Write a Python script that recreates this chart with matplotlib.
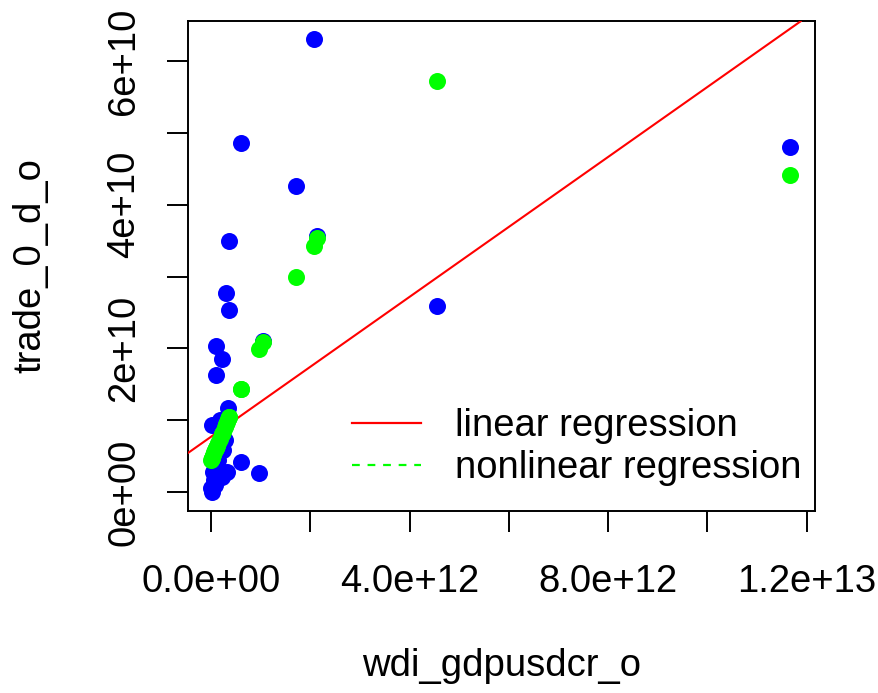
import numpy as np
import matplotlib
matplotlib.use("Agg")
import matplotlib.pyplot as plt
from matplotlib.lines import Line2D

plt.rcParams["font.family"] = ["Liberation Sans", "DejaVu Sans"]

# ==========================================
# Data
# gdp in 1e12, trade and fitted values in 1e10
# ==========================================

gdp = np.array([2.07, 2.13, 0.60, 1.71, 4.56, 11.66, 1.05, 0.97,
                0.36, 0.30, 0.36, 0.10, 0.22, 0.10, 0.34, 0.02,
                0.18, 0.24, 0.60, 0.04, 0.22, 0.08, 0.02, 0.32,
                0.06, 0.12, 0.28, 0.00, 0.14]) * 1e12

trade = np.array([6.31, 3.57, 4.86, 4.26, 2.59, 4.80, 2.10, 0.26,
                  3.50, 2.77, 2.53, 2.03, 1.85, 1.63, 1.17, 0.93,
                  1.00, 0.58, 0.42, 0.28, 0.21, 0.10, 0.00, 0.28,
                  0.17, 0.38, 0.72, 0.05, 0.45]) * 1e10

fitted_nl = np.array([3.43, 3.54, 1.43, 2.99, 5.72, 4.42, 2.09, 1.99,
                      1.04, 0.94, 1.04, 0.61, 0.81, 0.61, 1.01, 0.48,
                      0.74, 0.84, 1.43, 0.51, 0.81, 0.58, 0.48, 0.97,
                      0.55, 0.64, 0.91, 0.45, 0.68]) * 1e10

# linear regression line (intercept, slope)
lin_intercept = 0.769e10
lin_slope = 0.004872

x_ticks = np.arange(0, 13, 2) * 1e12
x_labels = ["0.0e+00", "", "4.0e+12", "", "8.0e+12", "", "1.2e+13"]
y_ticks = np.arange(0, 7, 1) * 1e10
y_labels = ["0e+00", "", "2e+10", "", "4e+10", "", "6e+10"]

# ==========================================
# Plot
# ==========================================

fs = 27.5
fig = plt.figure(figsize=(8.79, 6.93), dpi=100)
ax = fig.add_axes([0.2139, 0.2622, 0.7129, 0.7071])

ax.scatter(gdp, trade, s=150, color="blue", linewidths=0, zorder=2)
ax.axline((0, lin_intercept), slope=lin_slope, color="red", lw=1.5, zorder=3)
ax.scatter(gdp, fitted_nl, s=150, color="#00FF00", linewidths=0, zorder=4)

ax.set_xlim(-0.463e12, 12.16e12)
ax.set_ylim(-0.269e10, 6.556e10)

ax.set_xticks(x_ticks)
ax.set_xticklabels(x_labels, fontsize=fs)
ax.set_yticks(y_ticks)
ax.set_yticklabels(y_labels, fontsize=fs, rotation=90, va="center")

ax.tick_params(length=15, width=1.4)
ax.tick_params(axis="x", pad=23)
ax.tick_params(axis="y", pad=18)
for sp in ax.spines.values():
    sp.set_linewidth(1.4)

fig.text(501.4 / 879, 1 - 666 / 693, "wdi_gdpusdcr_o", fontsize=fs,
         ha="center", va="center")
fig.text(30 / 879, 1 - 266 / 693, "trade_0_d_o", fontsize=fs,
         ha="center", va="center", rotation=90)

handles = [
    Line2D([], [], color="red", lw=1.6),
    Line2D([], [], color="#00FF00", lw=1.6, dashes=(3.5, 3.5)),
]
ax.legend(handles, ["linear regression", "nonlinear regression"],
          loc="upper left", bbox_to_anchor=(0.2617, 0.211),
          frameon=False, fontsize=fs, borderpad=0, borderaxespad=0,
          handlelength=1.8, handletextpad=0.9, labelspacing=0.17)

fig.savefig("out.png", dpi=100)
